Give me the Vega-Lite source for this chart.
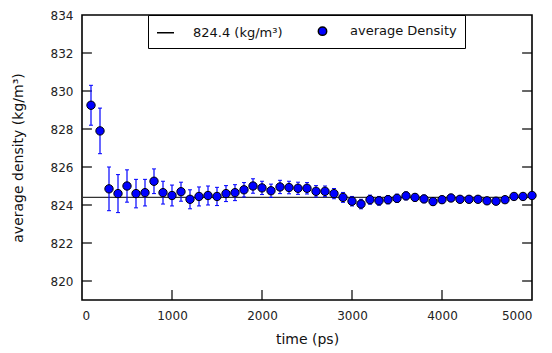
{
  "$schema": "https://vega.github.io/schema/vega-lite/v6.json",
  "width": 450,
  "height": 285,
  "autosize": {"type": "none"},
  "padding": {"left": 82, "top": 15, "right": 20, "bottom": 53},
  "background": "white",
  "config": {
    "view": {"stroke": "black", "strokeWidth": 1.6},
    "font": "DejaVu Sans",
    "axis": {
      "labelFont": "DejaVu Sans",
      "titleFont": "DejaVu Sans",
      "labelFontSize": 12,
      "titleFontSize": 14,
      "titleFontWeight": "normal",
      "labelColor": "#222",
      "titleColor": "#111",
      "domain": false,
      "ticks": false,
      "tickSize": 0,
      "grid": false
    }
  },
  "datasets": {
    "density": [
      {"t": 100, "density": 829.25, "err": 1.05},
      {"t": 200, "density": 827.9, "err": 1.2},
      {"t": 300, "density": 824.85, "err": 1.15},
      {"t": 400, "density": 824.6, "err": 1.0},
      {"t": 500, "density": 825.0, "err": 0.85},
      {"t": 600, "density": 824.6, "err": 0.75},
      {"t": 700, "density": 824.65, "err": 0.7},
      {"t": 800, "density": 825.25, "err": 0.65},
      {"t": 900, "density": 824.65, "err": 0.6},
      {"t": 1000, "density": 824.5, "err": 0.55},
      {"t": 1100, "density": 824.7, "err": 0.5},
      {"t": 1200, "density": 824.3, "err": 0.5},
      {"t": 1300, "density": 824.45, "err": 0.5},
      {"t": 1400, "density": 824.5, "err": 0.5},
      {"t": 1500, "density": 824.45, "err": 0.48},
      {"t": 1600, "density": 824.6, "err": 0.42},
      {"t": 1700, "density": 824.65, "err": 0.42},
      {"t": 1800, "density": 824.8, "err": 0.38},
      {"t": 1900, "density": 825.0, "err": 0.38},
      {"t": 2000, "density": 824.9, "err": 0.35},
      {"t": 2100, "density": 824.75, "err": 0.35},
      {"t": 2200, "density": 824.95, "err": 0.35},
      {"t": 2300, "density": 824.92, "err": 0.33},
      {"t": 2400, "density": 824.88, "err": 0.32},
      {"t": 2500, "density": 824.88, "err": 0.3},
      {"t": 2600, "density": 824.72, "err": 0.3},
      {"t": 2700, "density": 824.72, "err": 0.28},
      {"t": 2800, "density": 824.6, "err": 0.27},
      {"t": 2900, "density": 824.4, "err": 0.26},
      {"t": 3000, "density": 824.2, "err": 0.25},
      {"t": 3100, "density": 824.05, "err": 0.25},
      {"t": 3200, "density": 824.28, "err": 0.24},
      {"t": 3300, "density": 824.22, "err": 0.23},
      {"t": 3400, "density": 824.28, "err": 0.22},
      {"t": 3500, "density": 824.35, "err": 0.22},
      {"t": 3600, "density": 824.48, "err": 0.21},
      {"t": 3700, "density": 824.4, "err": 0.2},
      {"t": 3800, "density": 824.32, "err": 0.2},
      {"t": 3900, "density": 824.18, "err": 0.2},
      {"t": 4000, "density": 824.28, "err": 0.19},
      {"t": 4100, "density": 824.37, "err": 0.19},
      {"t": 4200, "density": 824.3, "err": 0.18},
      {"t": 4300, "density": 824.3, "err": 0.18},
      {"t": 4400, "density": 824.3, "err": 0.17},
      {"t": 4500, "density": 824.22, "err": 0.17},
      {"t": 4600, "density": 824.2, "err": 0.17},
      {"t": 4700, "density": 824.28, "err": 0.16},
      {"t": 4800, "density": 824.45, "err": 0.16},
      {"t": 4900, "density": 824.45, "err": 0.16},
      {"t": 5000, "density": 824.5, "err": 0.15}
    ],
    "mean": [{"value": 824.4}],
    "xticks": [{"v": 1000}, {"v": 2000}, {"v": 3000}, {"v": 4000}],
    "yticks": [{"v": 820}, {"v": 822}, {"v": 824}, {"v": 826}, {"v": 828}, {"v": 830}, {"v": 832}]
  },
  "layer": [
    {
      "data": {"name": "density"},
      "mark": {"type": "point", "opacity": 0},
      "encoding": {
        "x": {"field": "t", "type": "quantitative", "title": "time (ps)", "scale": {"domain": [0, 5000], "nice": false}, "axis": {"orient": "bottom", "format": "d", "values": [0, 1000, 2000, 3000, 4000, 5000], "labelPadding": 10, "titlePadding": 11}},
        "y": {"field": "density", "type": "quantitative", "title": "average density (kg/m³)", "scale": {"domain": [819, 834], "nice": false, "zero": false}, "axis": {"orient": "left", "values": [820, 822, 824, 826, 828, 830, 832, 834], "labelPadding": 9, "titlePadding": 25}}
      }
    },
    {
      "data": {"name": "yticks"},
      "mark": {"type": "rule", "color": "black", "strokeWidth": 1.2},
      "encoding": {
        "y": {"field": "v", "type": "quantitative", "title": "average density (kg/m³)"},
        "x": {"datum": 0, "type": "quantitative"},
        "x2": {"datum": 110}
      }
    },
    {
      "data": {"name": "yticks"},
      "mark": {"type": "rule", "color": "black", "strokeWidth": 1.2},
      "encoding": {
        "y": {"field": "v", "type": "quantitative", "title": "average density (kg/m³)"},
        "x": {"datum": 5000, "type": "quantitative"},
        "x2": {"datum": 4890}
      }
    },
    {
      "data": {"name": "xticks"},
      "mark": {"type": "rule", "color": "black", "strokeWidth": 1.2},
      "encoding": {
        "x": {"field": "v", "type": "quantitative", "title": "time (ps)"},
        "y": {"datum": 819, "type": "quantitative"},
        "y2": {"datum": 819.52}
      }
    },
    {
      "data": {"name": "xticks"},
      "mark": {"type": "rule", "color": "black", "strokeWidth": 1.2},
      "encoding": {
        "x": {"field": "v", "type": "quantitative", "title": "time (ps)"},
        "y": {"datum": 834, "type": "quantitative"},
        "y2": {"datum": 833.48}
      }
    },
    {
      "data": {"name": "mean"},
      "mark": {"type": "rule", "strokeWidth": 1.2, "color": "#333333"},
      "encoding": {
        "y": {"field": "value", "type": "quantitative", "title": "average density (kg/m³)"}
      }
    },
    {
      "data": {"name": "density"},
      "mark": {"type": "errorbar", "ticks": {"size": 4, "color": "#0000ff", "opacity": 1}, "rule": {"color": "#0000ff", "strokeWidth": 1.2, "opacity": 1}},
      "encoding": {
        "x": {"field": "t", "type": "quantitative", "title": "time (ps)"},
        "y": {"field": "density", "type": "quantitative", "title": "average density (kg/m³)"},
        "yError": {"field": "err"}
      }
    },
    {
      "data": {"name": "density"},
      "mark": {"type": "point", "filled": true, "stroke": "black", "strokeWidth": 1, "opacity": 1},
      "encoding": {
        "x": {"field": "t", "type": "quantitative", "title": "time (ps)"},
        "y": {"field": "density", "type": "quantitative", "title": "average density (kg/m³)"},
        "color": {
          "datum": "average Density",
          "scale": {"domain": ["824.4 (kg/m³)", "average Density"], "range": ["#333333", "#0000ff"]},
          "legend": {
            "title": null,
            "orient": "none",
            "legendX": 66,
            "legendY": 0,
            "direction": "horizontal",
            "columns": 2,
            "columnPadding": 30,
            "strokeColor": "black",
            "fillColor": "white",
            "padding": 8,
            "labelFont": "DejaVu Sans",
            "labelFontSize": 13,
            "labelColor": "#111",
            "labelOffset": 18
          }
        },
        "shape": {
          "datum": "average Density",
          "scale": {"domain": ["824.4 (kg/m³)", "average Density"], "range": ["stroke", "circle"]},
          "legend": {
            "title": null,
            "orient": "none",
            "legendX": 66,
            "legendY": 0,
            "direction": "horizontal",
            "columns": 2,
            "columnPadding": 30,
            "strokeColor": "black",
            "fillColor": "white",
            "padding": 8,
            "labelFont": "DejaVu Sans",
            "labelFontSize": 13,
            "labelColor": "#111",
            "labelOffset": 18
          }
        },
        "size": {
          "datum": "average Density",
          "scale": {"domain": ["824.4 (kg/m³)", "average Density"], "range": [289, 70]},
          "legend": {
            "title": null,
            "orient": "none",
            "legendX": 66,
            "legendY": 0,
            "direction": "horizontal",
            "columns": 2,
            "columnPadding": 30,
            "strokeColor": "black",
            "fillColor": "white",
            "padding": 8,
            "labelFont": "DejaVu Sans",
            "labelFontSize": 13,
            "labelColor": "#111",
            "labelOffset": 18
          }
        }
      }
    }
  ]
}
